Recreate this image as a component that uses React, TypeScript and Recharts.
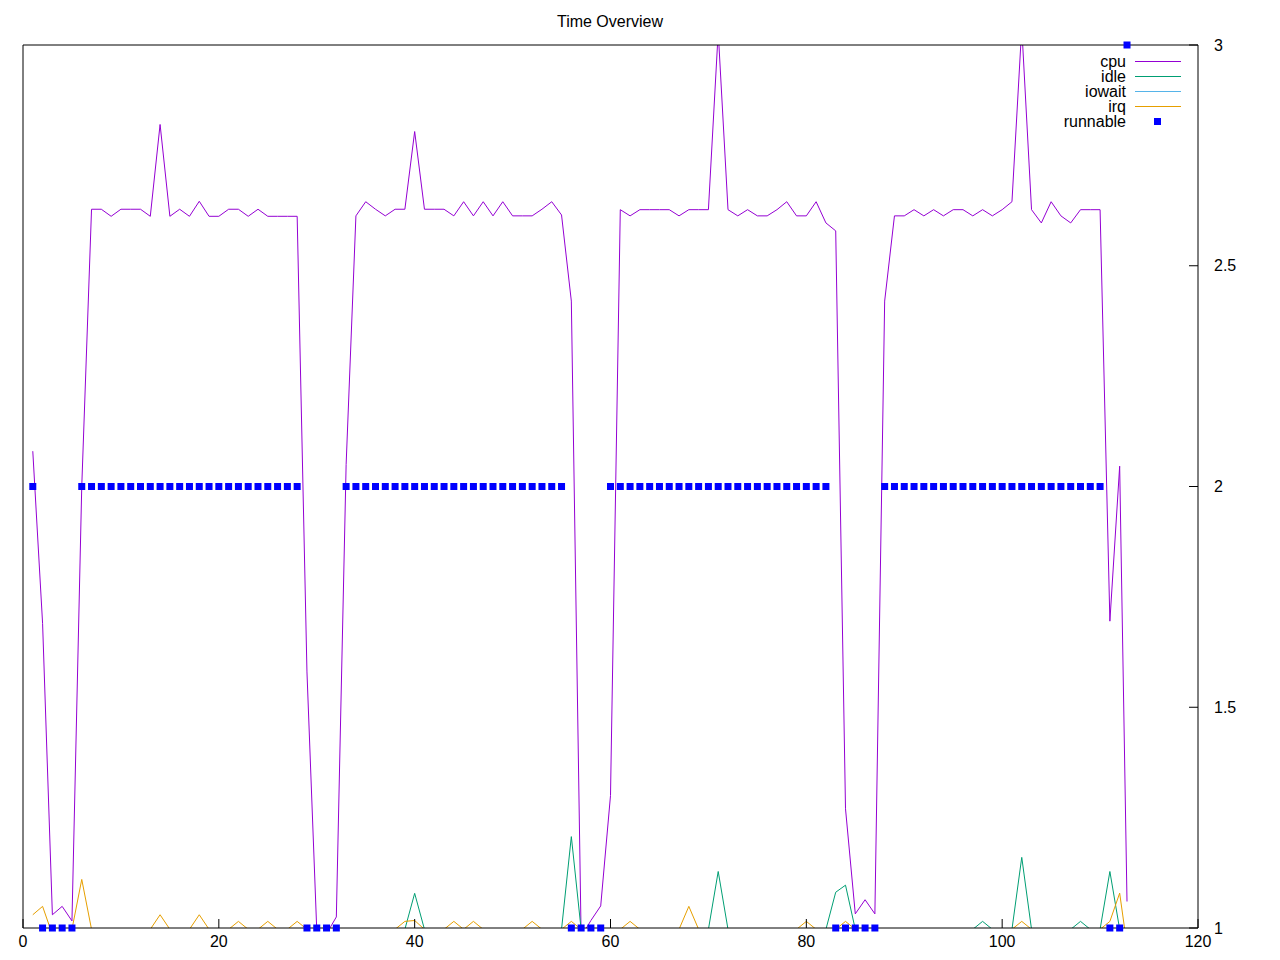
import {
  ComposedChart,
  Line,
  Scatter,
  XAxis,
  YAxis,
  Legend,
} from "recharts";

// sample number (the last sample is a partial one)
const times = [
  1, 2, 3, 4, 5, 6, 7, 8, 9, 10,
  11, 12, 13, 14, 15, 16, 17, 18, 19, 20,
  21, 22, 23, 24, 25, 26, 27, 28, 29, 30,
  31, 32, 33, 34, 35, 36, 37, 38, 39, 40,
  41, 42, 43, 44, 45, 46, 47, 48, 49, 50,
  51, 52, 53, 54, 55, 56, 57, 58, 59, 60,
  61, 62, 63, 64, 65, 66, 67, 68, 69, 70,
  71, 72, 73, 74, 75, 76, 77, 78, 79, 80,
  81, 82, 83, 84, 85, 86, 87, 88, 89, 90,
  91, 92, 93, 94, 95, 96, 97, 98, 99, 100,
  101, 102, 103, 104, 105, 106, 107, 108, 109, 110,
  111, 112, 112.75,
];

const cpu = [
  2.08, 1.69, 1.03, 1.049, 1.016, 2.0, 2.628, 2.628, 2.612, 2.628,
  2.628, 2.628, 2.612, 2.82, 2.612, 2.628, 2.612, 2.646, 2.612, 2.612,
  2.628, 2.628, 2.612, 2.628, 2.612, 2.612, 2.612, 2.612, 1.58, 0.995,
  0.987, 1.025, 2.05, 2.613, 2.645, 2.628, 2.613, 2.628, 2.628, 2.804,
  2.628, 2.628, 2.628, 2.613, 2.645, 2.613, 2.645, 2.613, 2.645, 2.613,
  2.613, 2.613, 2.628, 2.645, 2.615, 2.42, 0.98, 1.017, 1.05, 1.3,
  2.627, 2.613, 2.627, 2.627, 2.627, 2.627, 2.613, 2.627, 2.627, 2.627,
  3.03, 2.627, 2.613, 2.627, 2.613, 2.613, 2.627, 2.645, 2.613, 2.613,
  2.645, 2.597, 2.579, 1.27, 1.032, 1.064, 1.032, 2.42, 2.613, 2.613,
  2.627, 2.613, 2.627, 2.613, 2.627, 2.627, 2.613, 2.627, 2.613, 2.627,
  2.645, 3.04, 2.627, 2.597, 2.645, 2.613, 2.597, 2.627, 2.627, 2.627,
  1.695, 2.046, 1.06,
];

const idle = [
  0.997, 0.997, 0.997, 0.997, 0.997, 0.997, 0.997, 0.997, 0.997, 0.997,
  0.997, 0.997, 0.997, 0.997, 0.997, 0.997, 0.997, 0.997, 0.997, 0.997,
  0.997, 0.997, 0.997, 0.997, 0.997, 0.997, 0.997, 0.997, 0.997, 0.997,
  0.997, 0.997, 0.997, 0.997, 0.997, 0.997, 0.997, 0.997, 0.997, 1.0785,
  0.997, 0.997, 0.997, 0.997, 0.997, 0.997, 0.997, 0.997, 0.997, 0.997,
  0.997, 0.997, 0.997, 0.997, 0.997, 1.207, 0.997, 0.997, 0.997, 0.997,
  0.997, 0.997, 0.997, 0.997, 0.997, 0.997, 0.997, 0.997, 0.997, 0.997,
  1.128, 0.997, 0.997, 0.997, 0.997, 0.997, 0.997, 0.997, 0.997, 0.997,
  0.997, 0.997, 1.081, 1.097, 0.997, 0.997, 0.997, 0.997, 0.997, 0.997,
  0.997, 0.997, 0.997, 0.997, 0.997, 0.997, 0.997, 1.015, 0.997, 0.997,
  0.997, 1.16, 0.997, 0.997, 0.997, 0.997, 0.997, 1.015, 0.997, 0.997,
  1.128, 0.997, 0.997,
];

const iowait = [
  0, 0, 0, 0, 0, 0, 0, 0, 0, 0,
  0, 0, 0, 0, 0, 0, 0, 0, 0, 0,
  0, 0, 0, 0, 0, 0, 0, 0, 0, 0,
  0, 0, 0, 0, 0, 0, 0, 0, 0, 0,
  0, 0, 0, 0, 0, 0, 0, 0, 0, 0,
  0, 0, 0, 0, 0, 0, 0, 0, 0, 0,
  0, 0, 0, 0, 0, 0, 0, 0, 0, 0,
  0, 0, 0, 0, 0, 0, 0, 0, 0, 0,
  0, 0, 0, 0, 0, 0, 0, 0, 0, 0,
  0, 0, 0, 0, 0, 0, 0, 0, 0, 0,
  0, 0, 0, 0, 0, 0, 0, 0, 0, 0,
  0, 0, 0,
];

const irq = [
  1.03, 1.049, 0.985, 0.997, 0.997, 1.11, 0.997, 0.997, 0.997, 0.997,
  0.997, 0.997, 0.997, 1.03, 0.997, 0.997, 0.997, 1.03, 0.997, 0.997,
  0.997, 1.015, 0.997, 0.997, 1.015, 0.997, 0.997, 1.015, 0.997, 0.997,
  0.997, 0.997, 0.997, 0.997, 0.997, 0.997, 0.997, 0.997, 1.015, 1.017,
  0.997, 0.997, 0.997, 1.015, 0.997, 1.015, 0.997, 0.997, 0.997, 0.997,
  0.997, 1.015, 0.997, 0.997, 0.997, 1.015, 0.997, 0.997, 0.997, 0.997,
  0.997, 1.015, 0.997, 0.997, 0.997, 0.997, 0.997, 1.049, 0.997, 0.997,
  0.997, 0.997, 0.997, 0.997, 0.997, 0.997, 0.997, 0.997, 0.997, 1.015,
  0.997, 0.997, 0.997, 1.015, 0.997, 0.997, 0.997, 0.997, 0.997, 0.997,
  0.997, 0.997, 0.997, 0.997, 0.997, 0.997, 0.997, 0.997, 0.997, 0.997,
  0.997, 1.015, 0.997, 0.997, 0.997, 0.997, 0.997, 0.997, 0.997, 0.997,
  1.015, 1.079, 0.96,
];

const runnable = [
  2, 1, 1, 1, 1, 2, 2, 2, 2, 2,
  2, 2, 2, 2, 2, 2, 2, 2, 2, 2,
  2, 2, 2, 2, 2, 2, 2, 2, 1, 1,
  1, 1, 2, 2, 2, 2, 2, 2, 2, 2,
  2, 2, 2, 2, 2, 2, 2, 2, 2, 2,
  2, 2, 2, 2, 2, 1, 1, 1, 1, 2,
  2, 2, 2, 2, 2, 2, 2, 2, 2, 2,
  2, 2, 2, 2, 2, 2, 2, 2, 2, 2,
  2, 2, 1, 1, 1, 1, 1, 2, 2, 2,
  2, 2, 2, 2, 2, 2, 2, 2, 2, 2,
  2, 2, 2, 2, 2, 2, 2, 2, 2, 2,
  1, 1, 3,
];

const xTicks = [0, 20, 40, 60, 80, 100, 120];
const yTicks = [1, 1.5, 2, 2.5, 3];

const lineSeries = [
  { key: "cpu", color: "#9400d3" },
  { key: "idle", color: "#009e73" },
  { key: "iowait", color: "#56b4e9" },
  { key: "irq", color: "#e69f00" },
];
const pointColor = "#0000ff";

const data = times.map((t, i) => ({
  t,
  cpu: cpu[i],
  idle: idle[i],
  iowait: iowait[i],
  irq: irq[i],
  runnable: runnable[i],
}));

const FONT = '"Liberation Sans", Arial, sans-serif';

function KeyBox() {
  const rows = [...lineSeries.map((s) => ({ name: s.key, color: s.color, point: false })), { name: "runnable", color: pointColor, point: true }];
  return (
    <div style={{ position: "relative", width: 190, fontFamily: FONT }}>
      {rows.map((r) => (
        <div key={r.name} style={{ position: "relative", height: 15 }}>
          <span
            style={{
              position: "absolute",
              right: 64,
              top: -1,
              fontSize: 16,
              lineHeight: "18px",
              color: "#000",
              whiteSpace: "nowrap",
            }}
          >
            {r.name}
          </span>
          {r.point ? (
            <div style={{ position: "absolute", left: 154, top: 4, width: 7, height: 7, background: r.color }} />
          ) : (
            <div style={{ position: "absolute", left: 135, top: 7, width: 46, height: 1, background: r.color }} />
          )}
        </div>
      ))}
    </div>
  );
}

export default function App() {
  return (
    <div style={{ position: "absolute", left: 0, top: 0, width: 1280, height: 960, background: "#fff", fontFamily: FONT }}>
      <div
        style={{
          position: "absolute",
          left: 460,
          top: 13,
          width: 300,
          textAlign: "center",
          fontSize: 16,
          lineHeight: "18px",
          color: "#000",
        }}
      >
        Time Overview
      </div>
      <ComposedChart width={1280} height={960} data={data} margin={{ top: 44, right: 22, left: 22, bottom: 2 }}>
        <XAxis
          dataKey="t"
          type="number"
          domain={[0, 120]}
          ticks={xTicks}
          interval={0}
          tickSize={-9}
          tickMargin={17}
          height={30}
          axisLine={{ stroke: "#000" }}
          tickLine={{ stroke: "#000" }}
          tick={{ fill: "#000", fontSize: 16 }}
        />
        <XAxis
          xAxisId="top"
          orientation="top"
          dataKey="t"
          type="number"
          domain={[0, 120]}
          ticks={xTicks}
          interval={0}
          tickSize={-9}
          height={1}
          tick={false}
          axisLine={{ stroke: "#000" }}
          tickLine={{ stroke: "#000" }}
        />
        <YAxis
          yAxisId="pts"
          orientation="left"
          type="number"
          domain={[1, 3]}
          width={1}
          tick={false}
          tickLine={false}
          axisLine={{ stroke: "#000" }}
        />
        <YAxis
          yAxisId="r"
          orientation="right"
          type="number"
          domain={[1, 3]}
          allowDataOverflow
          ticks={yTicks}
          interval={0}
          width={60}
          tickSize={-9}
          tickMargin={25}
          axisLine={{ stroke: "#000" }}
          tickLine={{ stroke: "#000" }}
          tick={{ fill: "#000", fontSize: 16 }}
        />
        <Legend
          layout="vertical"
          align="center"
          verticalAlign="middle"
          wrapperStyle={{ top: 54, left: 1000, width: 190 }}
          content={() => <KeyBox />}
        />
        {lineSeries.map((s) => (
          <Line
            key={s.key}
            yAxisId="r"
            dataKey={s.key}
            type="linear"
            stroke={s.color}
            strokeWidth={1}
            dot={false}
            activeDot={false}
            isAnimationActive={false}
          />
        ))}
        <Scatter
          yAxisId="pts"
          dataKey="runnable"
          fill={pointColor}
          isAnimationActive={false}
          shape={(p: any) => <rect x={p.cx - 3.5} y={p.cy - 3.5} width={7} height={7} fill={pointColor} />}
        />
      </ComposedChart>
    </div>
  );
}
